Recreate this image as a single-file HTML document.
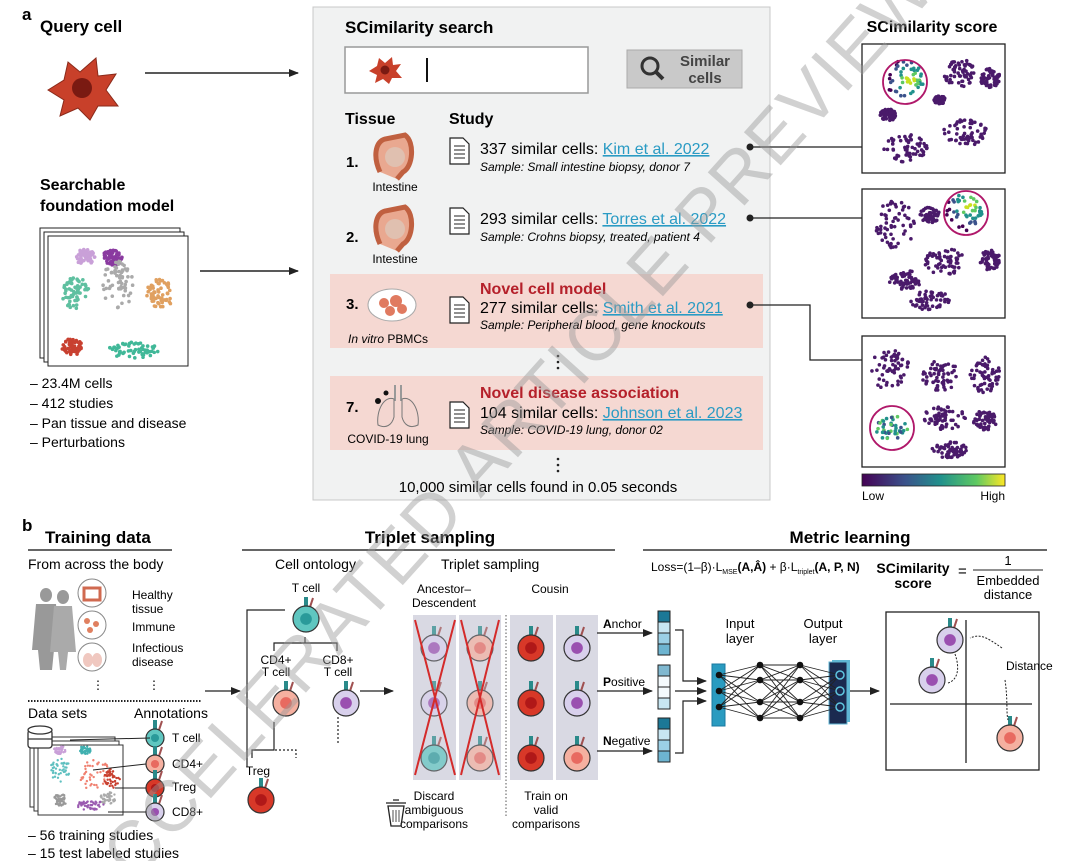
<!DOCTYPE html>
<html><head><meta charset="utf-8"><style>
html,body{margin:0;background:#fff;width:1080px;height:861px;overflow:hidden;}
svg{display:block;font-family:"Liberation Sans",sans-serif;overflow:hidden;}
.b{font-weight:bold}
</style></head><body>
<svg id="s" width="1080" height="861" viewBox="0 0 1080 861" xmlns="http://www.w3.org/2000/svg">
<defs>
<marker id="ar" markerWidth="10" markerHeight="8" refX="9" refY="4" orient="auto" markerUnits="userSpaceOnUse"><path d="M0,0 L10,4 L0,8z" fill="#222"/></marker>
<linearGradient id="vir" x1="0" x2="1"><stop offset="0" stop-color="#440154"/><stop offset=".3" stop-color="#3b528b"/><stop offset=".55" stop-color="#21918c"/><stop offset=".8" stop-color="#5ec962"/><stop offset="1" stop-color="#fde725"/></linearGradient>
</defs>
<!-- panel a -->
<text x="22" y="20" class="b" font-size="17">a</text>
<text x="40" y="32" class="b" font-size="17">Query cell</text>
<g transform="translate(82,88)"><path d="M-34,2 L-18,-8 L-14,-26 L-2,-16 L14,-30 L16,-12 L34,-14 L24,2 L36,18 L16,18 L8,32 L-4,20 L-22,28 L-18,12z" fill="#c8402a" stroke="#8a2a1a"/><circle r="10" fill="#7a1a12"/></g>
<line x1="145" y1="73" x2="298" y2="73" stroke="#222" stroke-width="1.5" marker-end="url(#ar)"/>
<text x="40" y="190" class="b" font-size="16">Searchable</text>
<text x="40" y="211" class="b" font-size="16">foundation model</text>
<g fill="#fff" stroke="#222"><rect x="40" y="228" width="140" height="130"/><rect x="44" y="232" width="140" height="130"/><rect x="48" y="236" width="140" height="130"/></g>
<g id="fm"></g>
<line x1="200" y1="271" x2="298" y2="271" stroke="#222" stroke-width="1.5" marker-end="url(#ar)"/>
<g font-size="14"><text x="30" y="388">– 23.4M cells</text><text x="30" y="408">– 412 studies</text><text x="30" y="428">– Pan tissue and disease</text><text x="30" y="447">– Perturbations</text></g>

<rect x="313" y="7" width="457" height="493" fill="#f1f2f2" stroke="#c8c8c8"/>
<text x="345" y="33" class="b" font-size="17">SCimilarity search</text>
<rect x="345" y="47" width="243" height="46" fill="#fff" stroke="#999" stroke-width="1.5"/>
<g transform="translate(385,70)"><path d="M-16,1 L-8,-4 L-6,-12 L0,-7 L7,-13 L8,-5 L16,-6 L11,1 L17,8 L7,8 L4,14 L-2,9 L-10,13 L-8,5z" fill="#c8402a"/><circle r="4.5" fill="#7a1a12"/></g>
<line x1="427" y1="58" x2="427" y2="82" stroke="#111" stroke-width="2"/>
<rect x="627" y="50" width="115" height="38" fill="#c9c9c9" stroke="#aaa"/>
<circle cx="650" cy="66" r="8" fill="none" stroke="#333" stroke-width="3"/><line x1="656" y1="72" x2="663" y2="79" stroke="#333" stroke-width="4"/>
<text x="705" y="66" class="b" font-size="15" fill="#444" text-anchor="middle">Similar</text><text x="705" y="83" class="b" font-size="15" fill="#444" text-anchor="middle">cells</text>
<text x="345" y="124" class="b" font-size="16">Tissue</text><text x="449" y="124" class="b" font-size="16">Study</text>
<rect x="330" y="274" width="433" height="74" fill="#f5d8d2"/>
<rect x="330" y="376" width="433" height="74" fill="#f5d8d2"/>
<g font-size="15" class="b"><text x="346" y="167">1.</text><text x="346" y="242">2.</text><text x="346" y="309">3.</text><text x="346" y="412">7.</text></g>
<g id="intest"></g>
<g font-size="12" text-anchor="middle"><text x="395" y="191">Intestine</text><text x="395" y="263">Intestine</text><text x="388" y="343"><tspan font-style="italic">In vitro</tspan> PBMCs</text><text x="388" y="443">COVID-19 lung</text></g>
<g transform="translate(392,305)"><ellipse rx="24" ry="16" fill="#fff" stroke="#aaa"/><circle cx="-8" cy="-2" r="5" fill="#e07a60"/><circle cx="4" cy="-4" r="6" fill="#e07a60"/><circle cx="10" cy="4" r="5" fill="#e07a60"/><circle cx="-2" cy="6" r="5" fill="#e07a60"/></g>
<g transform="translate(398,407)"><path d="M-3,-22 L-3,-6 M3,-22 L3,-6" stroke="#999" stroke-width="2"/><path d="M-4,-8 C-14,-12 -22,4 -20,18 C-12,22 -6,18 -4,10z M4,-8 C14,-12 22,4 20,18 C12,22 6,18 4,10z" fill="#f3d6d0" stroke="#777"/><circle cx="-20" cy="-6" r="3" fill="#111"/><circle cx="-12" cy="-14" r="2.5" fill="#111"/></g>
<g id="docs"></g>
<g font-size="16">
<text x="480" y="154">337 similar cells: <tspan fill="#2a9bc4" text-decoration="underline">Kim et al. 2022</tspan></text>
<text x="480" y="224">293 similar cells: <tspan fill="#2a9bc4" text-decoration="underline">Torres et al. 2022</tspan></text>
<text x="480" y="313">277 similar cells: <tspan fill="#2a9bc4" text-decoration="underline">Smith et al. 2021</tspan></text>
<text x="480" y="418">104 similar cells: <tspan fill="#2a9bc4" text-decoration="underline">Johnson et al. 2023</tspan></text>
</g>
<g font-size="12" font-style="italic">
<text x="480" y="171">Sample: Small intestine biopsy, donor 7</text>
<text x="480" y="241">Sample: Crohns biopsy, treated, patient 4</text>
<text x="480" y="329">Sample: Peripheral blood, gene knockouts</text>
<text x="480" y="434">Sample: COVID-19 lung, donor 02</text>
</g>
<text x="480" y="294" class="b" font-size="16" fill="#b5202a">Novel cell model</text>
<text x="480" y="398" class="b" font-size="16" fill="#b5202a">Novel disease association</text>
<g fill="#222"><circle cx="558" cy="356" r="1.3"/><circle cx="558" cy="362" r="1.3"/><circle cx="558" cy="368" r="1.3"/><circle cx="558" cy="459" r="1.3"/><circle cx="558" cy="465" r="1.3"/><circle cx="558" cy="471" r="1.3"/></g>
<text x="538" y="492" font-size="15" text-anchor="middle">10,000 similar cells found in 0.05 seconds</text>
<g stroke="#222" stroke-width="1.3" fill="none"><path d="M750,147 H862"/><path d="M750,218 H862"/><path d="M750,305 H810 V360 H862"/></g>
<g fill="#222"><circle cx="750" cy="147" r="3.5"/><circle cx="750" cy="218" r="3.5"/><circle cx="750" cy="305" r="3.5"/></g>

<text x="932" y="32" class="b" font-size="16" text-anchor="middle">SCimilarity score</text>
<g fill="#fff" stroke="#222" stroke-width="1.3"><rect x="862" y="44" width="143" height="129"/><rect x="862" y="189" width="143" height="129"/><rect x="862" y="336" width="143" height="131"/></g>
<g id="umap"></g>
<g fill="none" stroke="#b0186a" stroke-width="1.8"><circle cx="905" cy="82" r="22"/><circle cx="966" cy="213" r="22"/><circle cx="892" cy="428" r="22"/></g>
<rect x="862" y="474" width="143" height="12" fill="url(#vir)" stroke="#222" stroke-width=".8"/>
<text x="862" y="500" font-size="12">Low</text><text x="1005" y="500" font-size="12" text-anchor="end">High</text>

<!-- panel b -->
<text x="22" y="531" class="b" font-size="17">b</text>
<text x="45" y="543" class="b" font-size="17">Training data</text>
<text x="430" y="543" class="b" font-size="17" text-anchor="middle">Triplet sampling</text>
<text x="850" y="543" class="b" font-size="17" text-anchor="middle">Metric learning</text>
<g stroke="#333" stroke-width="1.5"><line x1="28" y1="550" x2="172" y2="550"/><line x1="242" y1="550" x2="615" y2="550"/><line x1="643" y1="550" x2="1047" y2="550"/></g>
<g font-size="14"><text x="28" y="569">From across the body</text><text x="275" y="569">Cell ontology</text><text x="441" y="569">Triplet sampling</text></g>
<g fill="#999"><ellipse cx="46" cy="595" rx="6" ry="7"/><path d="M36,604 H56 L60,650 H54 L52,670 H40 L38,650 H32z"/><ellipse cx="63" cy="597" rx="6" ry="7"/><path d="M54,606 H72 L76,652 H68 L66,670 H60 L58,652 H50z" fill="#aaa"/></g>
<g stroke="#888" fill="#fff"><circle cx="92" cy="593" r="14"/><circle cx="92" cy="625" r="14"/><circle cx="92" cy="657" r="14"/></g>
<g fill="#e08060"><path d="M84,588 h16 v12 h-16z" fill="none" stroke="#d06a50" stroke-width="3"/><circle cx="87" cy="621" r="3"/><circle cx="96" cy="624" r="3"/><circle cx="90" cy="630" r="3"/><ellipse cx="88" cy="660" rx="5" ry="7" fill="#f0c8c0"/><ellipse cx="97" cy="660" rx="5" ry="7" fill="#f0c8c0"/></g>
<g font-size="12"><text x="132" y="599">Healthy</text><text x="132" y="613">tissue</text><text x="132" y="631">Immune</text><text x="132" y="652">Infectious</text><text x="132" y="666">disease</text></g>
<text x="92" y="689" font-size="12">⋮</text><text x="148" y="689" font-size="12">⋮</text>
<line x1="28" y1="701" x2="202" y2="701" stroke="#222" stroke-width="2" stroke-dasharray="1.5 1.5"/>
<g font-size="14"><text x="28" y="718">Data sets</text><text x="134" y="718">Annotations</text></g>
<g fill="#fff" stroke="#333"><rect x="30" y="737" width="85" height="70"/><rect x="34" y="741" width="85" height="70"/><rect x="38" y="745" width="85" height="70"/></g>
<g fill="#fff" stroke="#333" stroke-width="1.3"><rect x="28" y="730" width="24" height="18" rx="3"/><ellipse cx="40" cy="730" rx="12" ry="4"/><line x1="28" y1="739" x2="52" y2="739"/></g>
<g id="ds"></g>
<g font-size="12"><text x="172" y="742">T cell</text><text x="172" y="768">CD4+</text><text x="172" y="791">Treg</text><text x="172" y="816">CD8+</text></g>
<g font-size="14"><text x="28" y="840">– 56 training studies</text><text x="28" y="858">– 15 test labeled studies</text></g>
<line x1="205" y1="691" x2="240" y2="691" stroke="#222" stroke-width="1.3" marker-end="url(#ar)"/>
<g font-size="12" text-anchor="middle"><text x="306" y="592">T cell</text><text x="276" y="664">CD4+</text><text x="276" y="676">T cell</text><text x="338" y="664">CD8+</text><text x="338" y="676">T cell</text><text x="258" y="775">Treg</text>
<text x="444" y="593">Ancestor–</text><text x="444" y="607">Descendent</text><text x="550" y="593">Cousin</text>
<text x="434" y="800">Discard</text><text x="434" y="814">ambiguous</text><text x="434" y="828">comparisons</text>
<text x="546" y="800">Train on</text><text x="546" y="814">valid</text><text x="546" y="828">comparisons</text></g>
<g stroke="#222" stroke-width="1.2" fill="none"><path d="M285,610 H247 V767"/><path d="M305,637 V643 M274,651 V643 H337 V651"/><path d="M274,722 V750 H252 V758"/><path d="M275,750 H296 V758" stroke-dasharray="2 2"/><path d="M338,717 V745" stroke-dasharray="2 2"/></g>
<line x1="360" y1="691" x2="393" y2="691" stroke="#222" stroke-width="1.3" marker-end="url(#ar)"/>
<g fill="#d9d9e3"><rect x="413" y="615" width="43" height="165"/><rect x="459" y="615" width="42" height="165"/><rect x="510" y="615" width="43" height="165"/><rect x="556" y="615" width="42" height="165"/></g>
<line x1="506" y1="615" x2="506" y2="818" stroke="#555" stroke-dasharray="1.5 2"/>
<g id="cells"></g>
<g stroke="#d42b2b" stroke-width="2"><line x1="415" y1="620" x2="455" y2="775"/><line x1="455" y1="620" x2="415" y2="775"/><line x1="461" y1="620" x2="499" y2="775"/><line x1="499" y1="620" x2="461" y2="775"/></g>
<g fill="none" stroke="#222" stroke-width="1.3"><path d="M386,803 h20 M393,800 h6"/><path d="M388,806 L391,826 H401 L404,806z"/><path d="M393,810 v12 M396,810 v12 M399,810 v12" stroke-width=".8"/></g>
<g font-size="12"><text x="603" y="628"><tspan class="b">A</tspan>nchor</text><text x="603" y="686"><tspan class="b">P</tspan>ositive</text><text x="603" y="745"><tspan class="b">N</tspan>egative</text></g>
<g stroke="#222" stroke-width="1.2" marker-end="url(#ar)"><line x1="597" y1="633" x2="652" y2="633"/><line x1="597" y1="691" x2="652" y2="691"/><line x1="597" y1="751" x2="652" y2="751"/></g>
<g stroke="#222"><rect x="658" y="611" width="12" height="11" fill="#1c7896"/><rect x="658" y="622" width="12" height="11" fill="#c7e6f2"/><rect x="658" y="633" width="12" height="11" fill="#9bd0e6"/><rect x="658" y="644" width="12" height="11" fill="#6db4d0"/>
<rect x="658" y="665" width="12" height="11" fill="#7fb8d0"/><rect x="658" y="676" width="12" height="11" fill="#f4fafd"/><rect x="658" y="687" width="12" height="11" fill="#f4fafd"/><rect x="658" y="698" width="12" height="11" fill="#c7e6f2"/>
<rect x="658" y="718" width="12" height="11" fill="#1c7896"/><rect x="658" y="729" width="12" height="11" fill="#c7e6f2"/><rect x="658" y="740" width="12" height="11" fill="#9bd0e6"/><rect x="658" y="751" width="12" height="11" fill="#6db4d0"/></g>
<g stroke="#222" stroke-width="1.2" fill="none"><path d="M675,630 H683 V681 H706" marker-end="url(#ar)"/><path d="M675,691 H706" marker-end="url(#ar)"/><path d="M675,753 H683 V701 H706" marker-end="url(#ar)"/></g>
<text x="740" y="628" font-size="13" text-anchor="middle">Input</text><text x="740" y="643" font-size="13" text-anchor="middle">layer</text>
<text x="823" y="628" font-size="13" text-anchor="middle">Output</text><text x="823" y="643" font-size="13" text-anchor="middle">layer</text>
<rect x="712" y="664" width="13" height="62" fill="#2a9bc0" stroke="#1a7aa0"/>
<rect x="832" y="660" width="18" height="62" fill="#5fb6d4"/><rect x="829" y="662" width="18" height="62" fill="#1b2a50" stroke="#5fb6d4"/>
<g id="nn"></g>
<line x1="850" y1="691" x2="879" y2="691" stroke="#222" stroke-width="1.3" marker-end="url(#ar)"/>
<text x="651" y="571" font-size="12">Loss=(1–β)·L<tspan font-size="7" dy="3">MSE</tspan><tspan dy="-3" class="b">(A,Â)</tspan> + β·L<tspan font-size="7" dy="3">triplet</tspan><tspan dy="-3" class="b">(A, P, N)</tspan></text>
<text x="913" y="573" class="b" font-size="14" text-anchor="middle">SCimilarity</text><text x="913" y="588" class="b" font-size="14" text-anchor="middle">score</text>
<text x="958" y="576" font-size="15">=</text>
<text x="1008" y="565" font-size="13" text-anchor="middle">1</text><line x1="973" y1="570" x2="1043" y2="570" stroke="#222"/>
<text x="1008" y="585" font-size="13" text-anchor="middle">Embedded</text><text x="1008" y="599" font-size="13" text-anchor="middle">distance</text>
<rect x="886" y="612" width="153" height="158" fill="#fff" stroke="#222" stroke-width="1.3"/>
<g stroke="#222" stroke-width="1.3"><line x1="966" y1="620" x2="966" y2="763"/><line x1="890" y1="704" x2="1032" y2="704"/></g>
<g id="emb"></g>
<text x="1006" y="670" font-size="12">Distance</text>
<g fill="none" stroke="#222" stroke-dasharray="2 1.5"><path d="M1002,648 C985,636 980,634 970,638"/><path d="M1005,680 C1008,700 1006,712 1008,720"/><path d="M955,654 C960,668 958,680 948,683"/></g>

<text transform="translate(520,455) rotate(-48)" font-size="72" fill="#999" fill-opacity=".45" text-anchor="middle" letter-spacing="2">ACCELERATED ARTICLE PREVIEW</text>
</svg>
<script>
const NS="http://www.w3.org/2000/svg";
function el(p,t,a){const e=document.createElementNS(NS,t);for(const k in a)e.setAttribute(k,a[k]);p.appendChild(e);return e;}
let seed=7;function r(){seed=(seed*16807)%2147483647;return seed/2147483647;}
function cl(g,cx,cy,rx,ry,n,col,rad){for(let i=0;i<n;i++){const a=r()*6.283,d=Math.sqrt(r());el(g,'circle',{cx:cx+Math.cos(a)*d*rx,cy:cy+Math.sin(a)*d*ry,r:rad||1.6,fill:typeof col=='function'?col(cx+Math.cos(a)*d*rx,cy+Math.sin(a)*d*ry):col});}}
const fm=document.getElementById('fm');
[[85,257,10,8,'#c9a0d8'],[112,258,10,8,'#8a3aa0'],[75,293,14,16,'#5fc0a0'],[118,285,16,24,'#aaa'],[160,295,14,16,'#e0a060'],[72,347,10,9,'#c84030'],[133,350,26,8,'#40b898']].forEach(c=>cl(fm,c[0],c[1],c[2],c[3],60,c[4],1.8));
const um=document.getElementById('umap');
const pur='#4a1a6a';
const V=['#440154','#3b528b','#21918c','#5ec962','#c8e020'];
cl(um,905,80,20,20,50,(x,y)=>{const d=Math.hypot(x-910,y-80);return V[Math.max(0,4-Math.floor(d/5))]},1.8);
[[960,73,16,14],[990,78,10,10],[888,115,8,6],[905,148,22,14],[965,132,22,14],[940,100,6,4]].forEach(c=>cl(um,c[0],c[1],c[2],c[3],60,pur,1.8));
cl(um,963,213,20,18,50,(x,y)=>{const d=Math.hypot(x-970,y-205);return V[Math.max(0,4-Math.floor(d/5))]},1.8);
[[895,225,20,25],[930,215,10,8],[945,262,20,14],[905,280,16,10],[990,260,10,10],[930,300,20,10]].forEach(c=>cl(um,c[0],c[1],c[2],c[3],60,pur,1.8));
cl(um,892,428,16,14,40,(x,y)=>V[1+Math.floor(r()*3)],1.8);
[[890,370,20,20],[940,375,18,16],[985,375,15,18],[945,418,22,12],[985,420,12,10],[950,450,18,8]].forEach(c=>cl(um,c[0],c[1],c[2],c[3],60,pur,1.8));
const it=document.getElementById('intest');
[[395,157],[395,229]].forEach(p=>{el(it,'path',{d:`M${p[0]-15},${p[1]+15} C${p[0]-22},${p[1]} ${p[0]-20},${p[1]-15} ${p[0]-10},${p[1]-18} L${p[0]+10},${p[1]-22} C${p[0]+20},${p[1]-15} ${p[0]+18},${p[1]+10} ${p[0]+8},${p[1]+15} L${p[0]+2},${p[1]+22}`,fill:'#e9a890',stroke:'#c06040','stroke-width':5});el(it,'ellipse',{cx:p[0],cy:p[1],rx:10,ry:10,fill:'#e0c0b0'});});
const dc=document.getElementById('docs');
[148,218,307,412].forEach(y=>{el(dc,'path',{d:`M450,${y-10} h13 l6,6 v20 h-19z`,fill:'#fff',stroke:'#222','stroke-width':1.2});for(let i=0;i<4;i++)el(dc,'line',{x1:454,x2:465,y1:y-2+i*4,y2:y-2+i*4,stroke:'#222'});});
const ds=document.getElementById('ds');
[[60,770,10,12,'#5fc0c0'],[95,775,15,16,'#f08070'],[60,800,7,6,'#999'],[108,798,8,6,'#aaa'],[112,778,8,10,'#c84030'],[90,805,14,5,'#9a5ab0'],[85,750,6,4,'#40b0b0'],[60,750,6,4,'#c9a0d8']].forEach(c=>cl(ds,c[0],c[1],c[2],c[3],45,c[4],1.2));
function cell(g,x,y,rad,fill,nuc,stroke){el(g,'rect',{x:x-2,y:y-rad-9,width:4,height:9,fill:'#2a8a8a'});el(g,'line',{x1:x+4,y1:y-rad+1,x2:x+7,y2:y-rad-8,stroke:'#a05050','stroke-width':2});el(g,'circle',{cx:x,cy:y,r:rad,fill:fill,stroke:stroke||'#333','stroke-width':1.2});el(g,'circle',{cx:x,cy:y,r:rad*.45,fill:nuc});}
const T=['#5fc6c0','#2a9a9a'],C4=['#f5b0a0','#e86a60'],TR=['#d83828','#b01818'],C8=['#d8d0ec','#9a50b0'];
cell(ds,155,738,9,...T);cell(ds,155,764,9,...C4);cell(ds,155,788,9,...TR);cell(ds,155,812,9,...C8);
[[[70,740],[150,738]],[[93,770],[146,764]],[[115,788],[146,788]],[[108,812],[146,812]]].forEach(l=>el(ds,'line',{x1:l[0][0],y1:l[0][1],x2:l[1][0],y2:l[1][1],stroke:'#222'}));
const ce=document.getElementById('cells');
cell(ce,306,619,13,...T);cell(ce,286,703,13,...C4);cell(ce,346,703,13,...C8);cell(ce,261,800,13,...TR);
[[C8,C4],[C8,C4],[T,C4]].forEach((p,i)=>{const y=648+i*55;const g=el(ce,'g',{opacity:.7});cell(g,434,y,13,...p[0]);cell(g,480,y,13,...p[1]);});
[[TR,C8],[TR,C8],[TR,C4]].forEach((p,i)=>{const y=648+i*55;cell(ce,531,y,13,...p[0]);cell(ce,577,y,13,...p[1]);});
const em=document.getElementById('emb');
cell(em,950,640,13,...C8);cell(em,932,680,13,...C8);cell(em,1010,738,13,...C4);
const nn=document.getElementById('nn');
const L=[[[719,675],[719,691],[719,707]],[[760,665],[760,680],[760,702],[760,718]],[[800,665],[800,680],[800,702],[800,718]],[[840,675],[840,691],[840,707]]];
for(let i=0;i<3;i++)L[i].forEach(a=>L[i+1].forEach(b=>el(nn,'line',{x1:a[0],y1:a[1],x2:b[0],y2:b[1],stroke:'#222','stroke-width':.9})));
L.forEach((l,i)=>l.forEach(p=>el(nn,'circle',{cx:p[0],cy:p[1],r:i==3?4:3.3,fill:i==3?'#1b2a50':'#111',stroke:i==3?'#5fc6e0':'none','stroke-width':1.5})));
</script>
</body></html>
